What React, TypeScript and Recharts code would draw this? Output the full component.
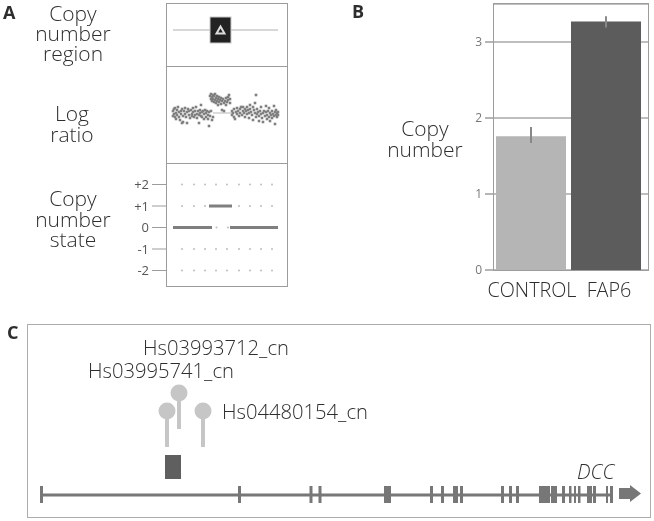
import React from "react";
import {
  BarChart, Bar, Cell, ErrorBar, CartesianGrid, XAxis, YAxis,
  ComposedChart, Line, Scatter, ReferenceArea,
} from "recharts";

// Panel A, log ratio probes
const logProbePositions = [
  7,7,8,8,9,9,10,10,11,11,12,13,13,14,15,15,16,16,17,17,18,19,19,20,21,21,22,23,23,24,25,26,26,27,27,28,29,29,30,31,31,32,33,33,34,34,35,35,36,36,37,38,38,39,40,40,41,42,42,43,43,44,45,46,47,
  44,45,45,46,46,47,47,48,48,49,49,50,50,51,51,52,52,53,53,54,55,55,56,56,57,58,58,59,60,60,61,62,62,63,64,64,
  66,66,67,68,68,69,70,71,71,72,73,74,74,75,76,77,77,78,79,79,80,81,81,82,83,83,84,84,85,86,87,87,88,89,89,90,90,91,91,92,93,93,94,95,95,96,97,97,98,99,100,100,101,101,102,103,103,104,104,105,106,106,107,108,108,109,109,110,110,111,111,112,112,
];
const logRatios = [
  0.1,-0.15,0.2,-0.05,0.25,-0.2,0,-0.3,0.15,-0.1,0.3,0.05,-0.2,-0.35,0.1,-0.05,0.2,-0.5,-0.15,-0.45,0.1,-0.05,0.25,-0.2,0.05,-0.5,0.2,-0.1,0.1,-0.25,0.15,-0.05,-0.15,0.25,0.05,-0.2,0.1,-0.1,0.3,-0.05,-0.25,0.1,-0.5,-0.1,0.15,0,0.4,-0.15,0.05,-0.2,0.1,-0.05,-0.3,0.15,0,-0.2,0.1,-0.1,-0.3,-0.65,0.05,-0.15,0.1,-0.35,-0.2,
  0.85,0.95,0.7,0.8,0.6,0.9,0.7,0.85,0.55,0.95,0.65,0.75,0.5,0.85,0.6,0.7,0.4,0.8,0.55,0.65,0.75,0.45,0.6,0.15,0.7,0.5,0.1,0.6,0.75,0.4,0.55,0.8,0.65,0.9,0.7,0.5,
  0.1,-0.1,0,-0.2,0.2,-0.3,0.05,-0.05,0.25,0.1,-0.15,0.2,0,0.3,-0.1,0.1,0.3,0,0.2,-0.2,0.1,0.3,-0.05,0.15,0,-0.25,0.4,0.2,0.05,-0.1,0.3,-0.35,0.15,0.5,0,-0.2,0.9,0.2,-0.05,0.05,-0.15,-0.4,0.1,-0.05,0.3,-0.25,0,-0.45,0.1,-0.15,0.05,0.35,-0.1,-0.3,0.1,-0.2,0.25,0,-0.4,-0.1,0.1,-0.25,-0.05,0.35,-0.15,-0.55,0.05,-0.1,0.15,-0.2,0,0.05,-0.1,
];
const logData = logProbePositions.map((x, i) => ({ x, y: logRatios[i] }));
const logBaseline = [{ x: 47, y: 0 }, { x: 66, y: 0 }];

// Panel A, copy number region
const regionLine = [{ x: 7, y: 0 }, { x: 112, y: 0 }];
const regionMarker = [{ x: 54.5, y: 0 }];

// Panel A, copy number state
const stateLevels = [2, 1, 0, -1, -2];
const stateTickLabels: Record<number, string> = { 2: "+2", 1: "+1", 0: "0", [-1]: "-1", [-2]: "-2" };
const stateGridX = [16, 28, 39, 50, 61, 73, 84, 95, 106];
const stateGridPoints = [
  ...stateGridX.map((x) => ({ x, y: 2 })),
  ...[16, 28, 39, 73, 84, 95, 106].map((x) => ({ x, y: 1 })),
  ...[50.5, 62].map((x) => ({ x, y: 0 })),
  ...stateGridX.map((x) => ({ x, y: -1 })),
  ...stateGridX.map((x) => ({ x, y: -2 })),
];
const stateSegmentA = [{ x: 7, y: 0 }, { x: 46, y: 0 }];
const stateSegmentB = [{ x: 43, y: 1 }, { x: 66, y: 1 }];
const stateSegmentC = [{ x: 64, y: 0 }, { x: 112, y: 0 }];

// Panel B
const groups = ["CONTROL", "FAP6"];
const copyNumbers = [1.76, 3.27];
const copyErrors = [[0.09, 0.12], [0.08, 0.07]];
const barColors = ["#b5b5b5", "#5c5c5c"];
const copyTicks = [0, 1, 2, 3];
const barData = groups.map((name, i) => ({ name, value: copyNumbers[i], err: copyErrors[i] }));

// Panel C, gene model
const exons = [
  [13,16],[211,214],[282.5,285.5],[291.5,294.5],[357,364],[403,406],[414,417],[426,431],[433,436],
  [474,477],[482,485],[489,492],[512,523],[524,530],[535,538],[542,544.5],[547,549],[551,553.5],
  [560,565],[566,569],[579,581],[583,586],
];
const geneLine = [{ x: 14, y: 23 }, { x: 586, y: 23 }];
const geneArrow = [{ x: 603, y: 24.5 }];
const probeNames = ["Hs03995741_cn", "Hs03993712_cn", "Hs04480154_cn"];
const probeX = [140, 152, 176];
const probeHead = [107, 125, 107];
const probeFoot = [71, 89, 71];
const cnvRegion = { x1: 138, x2: 154, y1: 39, y2: 63 };
const probeHeads = probeNames.map((name, i) => ({ name, x: probeX[i], y: probeHead[i] }));

const FONT = '"Open Sans", sans-serif';
const INK = "#2e2e2e";

function Label({ lines, cx, top, lh = 20.5, size = 21 }: { lines: string[]; cx: number; top: number; lh?: number; size?: number }) {
  return (
    <>
      {lines.map((t, i) => (
        <div key={t} style={{
          position: "absolute", left: cx - 50, width: 100, top: top + i * lh - 9, height: 18, lineHeight: "18px",
          textAlign: "center", fontFamily: FONT, fontWeight: 300, fontSize: size, color: INK,
        }}>{t}</div>
      ))}
    </>
  );
}

function Free({ text, x, y, size = 20.2, italic = false, weight = 300 }: { text: string; x: number; y: number; size?: number; italic?: boolean; weight?: number }) {
  return (
    <div style={{
      position: "absolute", left: x, top: y - 10, height: 20, lineHeight: "20px", whiteSpace: "nowrap",
      fontFamily: FONT, fontWeight: weight, fontStyle: italic ? "italic" : "normal", fontSize: size, color: INK,
    }}>{text}</div>
  );
}

function Frame({ x, y, w, h, color = "#9c9c9c" }: { x: number; y: number; w: number; h: number; color?: string }) {
  return (
    <div style={{
      position: "absolute", left: x, top: y, width: w, height: h, boxSizing: "border-box",
      border: `1.5px solid ${color}`, pointerEvents: "none",
    }} />
  );
}

const Square = (props: any) => <rect x={props.cx - 1.3} y={props.cy - 1.3} width={2.6} height={2.6} fill="#808080" />;
const Dot = (props: any) => <circle cx={props.cx} cy={props.cy} r={1} fill="#bdbdbd" />;

const RegionMarker = (props: any) => (
  <g>
    <rect x={props.cx - 10.5} y={props.cy - 13} width={21} height={26} fill="#222222" stroke="#c8c8c8" strokeWidth={1} />
    <polygon
      points={`${props.cx},${props.cy - 3.5} ${props.cx + 4},${props.cy + 3.5} ${props.cx - 4},${props.cy + 3.5}`}
      fill="none" stroke="#dddddd" strokeWidth={2}
    />
  </g>
);

const GeneArrow = (props: any) => {
  const { cx, cy } = props;
  return (
    <polygon
      fill="#777777"
      points={`${cx - 11},${cy - 5.5} ${cx},${cy - 5.5} ${cx},${cy - 8.5} ${cx + 11},${cy} ${cx},${cy + 8.5} ${cx},${cy + 5.5} ${cx - 11},${cy + 5.5}`}
    />
  );
};

const ProbeHead = (props: any) => <circle cx={props.cx} cy={props.cy} r={8.5} fill="#c6c6c6" />;

const GroupTick = (props: any) => {
  const shift = [1.5, 3.5][props.index] ?? 0;
  return (
    <text x={props.x + shift} y={props.y + 19} textAnchor="middle" fontFamily={FONT} fontWeight={300} fontSize={19.8} fill={INK}>
      {props.payload.value}
    </text>
  );
};

const ZERO = { top: 0, right: 0, bottom: 0, left: 0 };

export default function App() {
  return (
    <div style={{ position: "absolute", left: 0, top: 0, width: 654, height: 521, overflow: "hidden", background: "#fff", filter: "blur(0.4px)" }}>
      {/* Panel A: region */}
      <div style={{ position: "absolute", left: 166, top: 3 }}>
        <ComposedChart width={122} height={63} margin={ZERO}>
          <XAxis dataKey="x" type="number" domain={[0, 122]} hide />
          <YAxis type="number" domain={[-36, 27]} hide />
          <Line data={regionLine} dataKey="y" stroke="#b0b0b0" strokeWidth={1} dot={false} isAnimationActive={false} />
          <Scatter data={regionMarker} dataKey="y" shape={RegionMarker} isAnimationActive={false} />
        </ComposedChart>
      </div>

      {/* Panel A: log ratio */}
      <div style={{ position: "absolute", left: 166, top: 66 }}>
        <ComposedChart width={122} height={97} margin={ZERO}>
          <XAxis dataKey="x" type="number" domain={[0, 122]} hide />
          <YAxis type="number" domain={[-2.5, 2.35]} hide />
          <Line data={logBaseline} dataKey="y" stroke="#cfcfcf" strokeWidth={1.5} dot={false} isAnimationActive={false} />
          <Scatter data={logData} dataKey="y" shape={Square} isAnimationActive={false} />
        </ComposedChart>
      </div>

      {/* Panel A: state */}
      <div style={{ position: "absolute", left: 120, top: 163 }}>
        <ComposedChart width={168} height={123} margin={ZERO}>
          <XAxis dataKey="x" type="number" domain={[0, 122]} hide />
          <YAxis
            type="number" domain={[-2.72, 3]} ticks={stateLevels} interval={0} width={46}
            axisLine={false} tickSize={14} tickMargin={3}
            tickLine={{ stroke: "#9c9c9c", strokeWidth: 1 }}
            tickFormatter={(v: number) => stateTickLabels[v]}
            tick={{ fontFamily: FONT, fontSize: 13, fill: "#555555" }}
          />
          <Scatter data={stateGridPoints} dataKey="y" shape={Dot} isAnimationActive={false} />
          <Line data={stateSegmentA} dataKey="y" stroke="#7f7f7f" strokeWidth={3} dot={false} isAnimationActive={false} />
          <Line data={stateSegmentB} dataKey="y" stroke="#7f7f7f" strokeWidth={3} dot={false} isAnimationActive={false} />
          <Line data={stateSegmentC} dataKey="y" stroke="#7f7f7f" strokeWidth={3} dot={false} isAnimationActive={false} />
        </ComposedChart>
      </div>

      <Frame x={166} y={3} w={122} h={64} />
      <Frame x={166} y={66} w={122} h={98} />
      <Frame x={166} y={163} w={122} h={124} />

      {/* Panel B */}
      <div style={{ position: "absolute", left: 455, top: 0 }}>
        <BarChart width={199} height={315} data={barData} margin={{ top: 4, right: 6, bottom: 15, left: 0 }} barSize={70}>
          <CartesianGrid vertical={false} stroke="#a8a8a8" strokeWidth={1.5} />
          <XAxis dataKey="name" height={30} tick={GroupTick} tickLine={false} axisLine={false} interval={0} padding={{ left: 0, right: 5 }} />
          <YAxis
            type="number" domain={[0, 3.5]} ticks={copyTicks} interval={0} width={38}
            axisLine={false} tickSize={8} tickMargin={3}
            tickLine={{ stroke: "#9c9c9c", strokeWidth: 1.5 }}
            tick={{ fontFamily: FONT, fontSize: 12, fill: "#777777" }}
          />
          <Bar dataKey="value" isAnimationActive={false}>
            {barData.map((d, i) => <Cell key={d.name} fill={barColors[i]} />)}
            <ErrorBar dataKey="err" width={0} stroke="#888888" strokeWidth={2} isAnimationActive={false} />
          </Bar>
        </BarChart>
      </div>
      <Frame x={493} y={3} w={156} h={268} />

      {/* Panel C */}
      <div style={{ position: "absolute", left: 27, top: 324 }}>
        <ComposedChart width={624} height={194} margin={ZERO}>
          <XAxis dataKey="x" type="number" domain={[0, 624]} hide />
          <YAxis type="number" domain={[0, 194]} hide />
          <Line data={geneLine} dataKey="y" stroke="#777777" strokeWidth={3} dot={false} isAnimationActive={false} />
          {exons.map(([a, b]) => (
            <ReferenceArea key={a} x1={a} x2={b} y1={15} y2={32} fill="#777777" fillOpacity={1} stroke="none" />
          ))}
          <ReferenceArea {...cnvRegion} fill="#5f5f5f" fillOpacity={1} stroke="none" />
          {probeX.map((x, i) => (
            <Line
              key={probeNames[i]}
              data={[{ x, y: probeFoot[i] }, { x, y: probeHead[i] }]}
              dataKey="y" stroke="#c6c6c6" strokeWidth={4} dot={false} isAnimationActive={false}
            />
          ))}
          <Scatter data={probeHeads} dataKey="y" shape={ProbeHead} isAnimationActive={false} />
          <Scatter data={geneArrow} dataKey="y" shape={GeneArrow} isAnimationActive={false} />
        </ComposedChart>
      </div>
      <Frame x={27} y={324} w={624} h={194} color="#acacac" />

      {/* Text */}
      <Free text="A" x={3} y={12} size={18} weight={700} />
      <Free text="B" x={352} y={11} size={18} weight={700} />
      <Free text="C" x={7} y={332} size={18} weight={700} />
      <Label lines={["Copy", "number", "region"]} cx={73} top={13} lh={20} />
      <Label lines={["Log", "ratio"]} cx={72} top={113} />
      <Label lines={["Copy", "number", "state"]} cx={73} top={198} />
      <Label lines={["Copy", "number"]} cx={425} top={128} />
      <Free text={probeNames[1]} x={143} y={347} />
      <Free text={probeNames[0]} x={88} y={370} />
      <Free text={probeNames[2]} x={222} y={411} />
      <Free text="DCC" x={577} y={471} italic />
    </div>
  );
}
